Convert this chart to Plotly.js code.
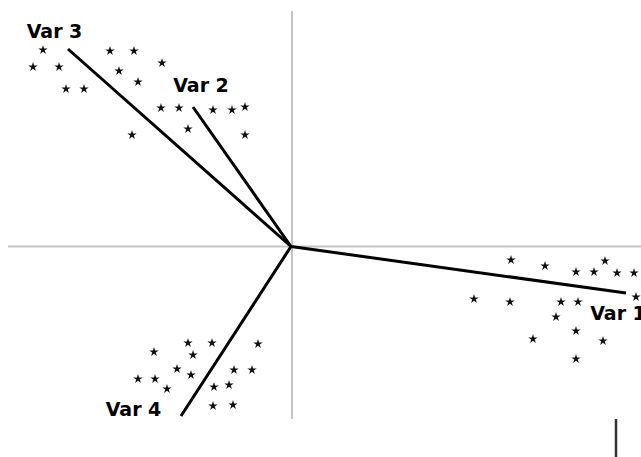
<!DOCTYPE html>
<html>
<head>
<meta charset="utf-8">
<script src="https://cdn.plot.ly/plotly-3.0.1.min.js"></script>
<style>html,body{margin:0;padding:0;background:#fff;}#chart{width:641px;height:457px;}</style>
</head>
<body>
<div id="chart"></div>
<script>
// Variable loading vectors (biplot units)
var varNames = ["Var 1", "Var 2", "Var 3", "Var 4"];
var varX = [3.35, -0.98, -2.23, -1.10];
var varY = [-0.465, 1.395, 1.975, -1.695];
var labelX = [3.27, -0.90, -2.365, -1.575];
var labelY = [-0.685, 1.595, 2.135, -1.645];

// Observation scores
var obsTopX = [-2.48, -2.58, -2.32, -2.25, -2.07, -1.81, -1.57, -1.72, -1.53, -1.29, -1.30, -1.12, -0.78, -0.59, -0.46, -1.03, -1.59, -0.46];
var obsTopY = [1.965, 1.795, 1.795, 1.575, 1.575, 1.955, 1.955, 1.755, 1.645, 1.835, 1.385, 1.385, 1.365, 1.365, 1.395, 1.175, 1.115, 1.115];
var obsRightX = [2.20, 2.54, 2.85, 3.03, 3.14, 3.26, 3.43, 3.45, 1.83, 2.19, 2.70, 2.87, 2.65, 2.85, 2.42, 3.12, 2.85];
var obsRightY = [-0.135, -0.195, -0.255, -0.255, -0.145, -0.265, -0.265, -0.505, -0.525, -0.555, -0.555, -0.555, -0.705, -0.845, -0.925, -0.945, -1.125];
var obsBottomX = [-1.37, -1.03, -0.79, -0.33, -0.98, -1.14, -1.53, -1.36, -1.00, -1.24, -0.57, -0.39, -0.77, -0.62, -0.78, -0.58];
var obsBottomY = [-1.055, -0.965, -0.965, -0.975, -1.085, -1.225, -1.325, -1.325, -1.285, -1.425, -1.235, -1.235, -1.405, -1.385, -1.595, -1.585];

// Reference axes extents
var axisVX = [0.01, 0.01];
var axisVY = [2.355, -1.725];
var axisHX = [-2.83, 3.50];
var axisHY = [0, 0];
var markX = [3.25, 3.25];
var markY = [-1.725, -2.11];

var lx = [], ly = [];
for (var i = 0; i < varNames.length; i++) {
  lx.push(0, varX[i], null);
  ly.push(0, varY[i], null);
}
var ox = obsTopX.concat(obsRightX, obsBottomX);
var oy = obsTopY.concat(obsRightY, obsBottomY);

var traces = [
  {x: axisVX, y: axisVY, mode: "lines", line: {color: "#c4c4c4", width: 2}, hoverinfo: "skip", cliponaxis: false},
  {x: axisHX, y: axisHY, mode: "lines", line: {color: "#c4c4c4", width: 2}, hoverinfo: "skip", cliponaxis: false},
  {x: markX, y: markY, mode: "lines", line: {color: "#333333", width: 2.5}, hoverinfo: "skip", cliponaxis: false},
  {x: lx, y: ly, mode: "lines", line: {color: "#000000", width: 3}, hoverinfo: "skip", cliponaxis: false},
  {x: ox, y: oy, mode: "markers", marker: {symbol: "star", size: 7, color: "#111111"}, cliponaxis: false},
  {x: labelX, y: labelY, mode: "text", text: varNames, textposition: "middle center",
   textfont: {family: "DejaVu Sans", size: 19, color: "#000000", weight: "bold"}, cliponaxis: false}
];

var layout = {
  width: 641, height: 457,
  margin: {l: 0, r: 0, t: 0, b: 0},
  paper_bgcolor: "#ffffff", plot_bgcolor: "#ffffff",
  showlegend: false,
  xaxis: {range: [-2.91, 3.50], visible: false, fixedrange: true},
  yaxis: {range: [-2.105, 2.465], visible: false, fixedrange: true}
};

Plotly.newPlot("chart", traces, layout, {staticPlot: true, displayModeBar: false});
</script>
</body>
</html>
